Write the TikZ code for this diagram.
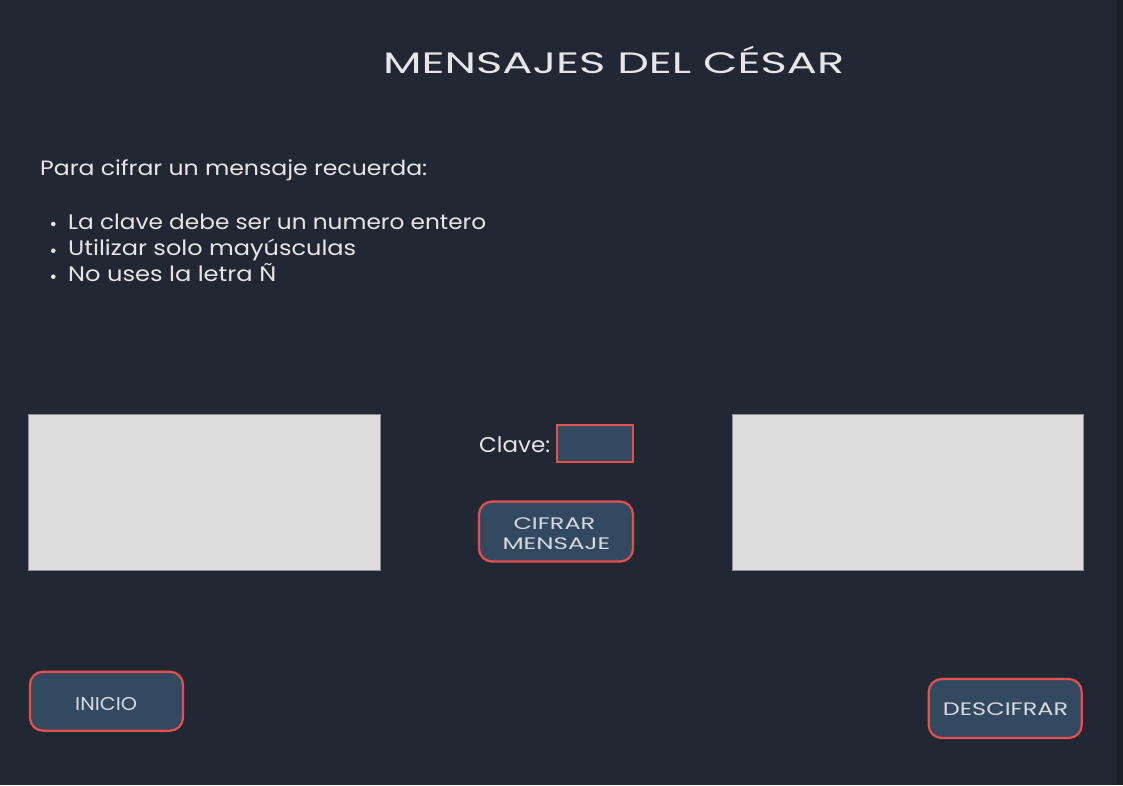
\documentclass[tikz,border=0pt]{standalone}
\usepackage{fontspec}
\setmainfont{Poppins}
\usepackage{graphicx}
\definecolor{bg}{HTML}{222833}
\definecolor{edge}{HTML}{1A1E25}
\definecolor{btnfill}{HTML}{33495F}
\definecolor{btnline}{HTML}{E5504F}
\definecolor{txtc}{HTML}{E6E6E6}
\definecolor{btntxt}{HTML}{D5DAE0}
\definecolor{areafill}{HTML}{DCDCDC}
\definecolor{arealine}{HTML}{8C8F95}
\newcommand{\fitx}[3]{\resizebox{#1pt}{\height}{\fontsize{#2}{#2}\selectfont #3}}
\tikzset{
  txt/.style={text=txtc, inner sep=0pt, anchor=base west},
  btn/.style={draw=btnline, line width=2.2pt, fill=btnfill, rounded corners=13pt, text=btntxt, inner sep=0pt, align=center},
  field/.style={draw=btnline, line width=2pt, fill=btnfill, inner sep=0pt},
  area/.style={draw=arealine, line width=1pt, fill=areafill, inner sep=0pt},
  bul/.style={fill=txtc, circle, inner sep=0pt, minimum size=4.6pt}
}
\begin{document}
\begin{tikzpicture}[x=1pt,y=-1pt]
\fill[bg] (0,0) rectangle (1123,785);
\fill[edge] (1117,0) rectangle (1123,785);
\useasboundingbox (0,0) rectangle (1123,785);

\node[txt] (title) at (383,73) {\fitx{461}{29.5}{MENSAJES DEL CÉSAR}};
\node[txt] (intro) at (40,175) {\fitx{387}{20.7}{Para cifrar un mensaje recuerda:}};

\node[bul] (b1) at (53.3,224) {};
\node[bul] (b2) at (53.3,250.7) {};
\node[bul] (b3) at (53.3,276.7) {};
\node[txt] (l1) at (68,229.3) {\fitx{418}{21}{La clave debe ser un numero entero}};
\node[txt] (l2) at (68,255.7) {\fitx{288}{21}{Utilizar solo mayúsculas}};
\node[txt] (l3) at (68,281.7) {\fitx{208}{21}{No uses la letra Ñ}};

\node[area, minimum width=352pt, minimum height=156pt] (inarea) at (204,492.3) {};
\node[area, minimum width=351pt, minimum height=156pt] (outarea) at (907.5,492.3) {};

\node[txt] (clave) at (479,452) {\fitx{71}{21.4}{Clave:}};
\node[field, minimum width=76pt, minimum height=37pt] (key) at (594.5,443.2) {};

\node[btn, minimum width=154pt, minimum height=60pt] (cifrar) at (556,531.5) {};
\node[txt, text=btntxt] (cif1) at (513.3,529) {\fitx{81.7}{16.7}{CIFRAR}};
\node[txt, text=btntxt] (cif2) at (502.3,549) {\fitx{107.7}{16.7}{MENSAJE}};

\node[btn, minimum width=153pt, minimum height=59pt] (inicio) at (106.5,701.2) {};
\node[txt, text=btntxt] (inicioT) at (75,710) {\fitx{62}{18.6}{INICIO}};

\node[btn, minimum width=153pt, minimum height=59pt] (descifrar) at (1005.2,708.5) {};
\node[txt, text=btntxt] (descT) at (942.7,715.3) {\fitx{125.3}{18.1}{DESCIFRAR}};
\end{tikzpicture}
\end{document}
